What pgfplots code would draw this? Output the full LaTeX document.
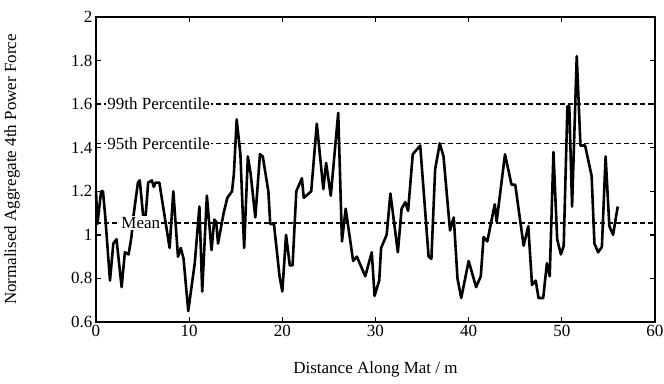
\documentclass[border=0pt]{standalone}
\usepackage{pgfplots}
\pgfplotsset{compat=1.18}
\usepackage{fontspec}
\setmainfont{Liberation Serif}
\pgfplotstableread{
x y
0 1.20
0.15 1.05
0.55 1.20
0.75 1.20
1.0 1.08
1.5 0.79
1.86 0.96
2.2 0.98
2.75 0.76
3.1 0.92
3.5 0.91
3.8 0.99
4.0 1.08
4.5 1.24
4.7 1.25
5.1 1.07
5.3 1.07
5.6 1.24
6.0 1.25
6.2 1.22
6.4 1.24
6.8 1.24
7.9 0.94
8.3 1.20
8.8 0.90
9.1 0.94
9.4 0.89
9.9 0.65
10.6 0.87
11.1 1.13
11.4 0.74
11.9 1.18
12.4 0.93
12.7 1.07
12.9 1.06
13.1 0.96
13.7 1.10
14.1 1.17
14.6 1.20
14.8 1.28
15.1 1.53
15.5 1.37
15.9 0.94
16.3 1.36
16.6 1.28
17.1 1.08
17.6 1.37
17.9 1.36
18.5 1.20
18.7 1.05
19.1 1.05
19.7 0.81
20.0 0.74
20.4 1.00
20.8 0.86
21.1 0.86
21.5 1.20
22.1 1.26
22.3 1.17
23.1 1.20
23.7 1.51
24.4 1.21
24.7 1.33
25.2 1.18
26.0 1.56
26.4 0.97
26.8 1.12
27.6 0.88
28.0 0.90
28.9 0.81
29.6 0.92
29.9 0.72
30.4 0.79
30.6 0.94
31.2 1.00
31.6 1.19
32.4 0.92
32.8 1.12
33.2 1.15
33.5 1.11
34.0 1.37
34.8 1.41
35.7 0.90
36.0 0.89
36.4 1.30
36.9 1.42
37.3 1.36
38.0 1.02
38.4 1.08
38.8 0.80
39.2 0.71
40.0 0.88
40.8 0.76
41.3 0.81
41.6 0.99
42.0 0.97
42.8 1.14
43.0 1.06
43.9 1.37
44.6 1.23
45.0 1.23
45.9 0.95
46.4 1.04
46.8 0.77
47.2 0.79
47.5 0.71
48.0 0.71
48.4 0.87
48.7 0.81
49.1 1.38
49.5 0.98
49.9 0.91
50.2 0.95
50.6 1.59
50.8 1.59
51.1 1.13
51.6 1.82
52.0 1.41
52.5 1.41
53.2 1.27
53.5 0.96
53.9 0.92
54.3 0.945
54.7 1.36
55.1 1.04
55.5 1.00
56.0 1.13
}\force
\pgfplotstableread{
x y
0 1.6
60 1.6
}\pninetynine
\pgfplotstableread{
x y
0 1.42
60 1.42
}\pninetyfive
\pgfplotstableread{
x y
0 1.055
60 1.055
}\pmean
\begin{document}
\begin{tikzpicture}
\useasboundingbox (-96pt,-61pt) rectangle (568pt,322pt);
\begin{axis}[
  scale only axis,
  width=559pt, height=305pt,
  xmin=0, xmax=60, ymin=0.6, ymax=2,
  xtick={0,10,...,60},
  ytick={0.6,0.8,1,1.2,1.4,1.6,1.8,2},
  yticklabels={0.6,0.8,1,1.2,1.4,1.6,1.8,2},
  tick align=inside,
  major tick length=5pt,
  axis line style={line width=1.5pt},
  every tick/.style={black, line width=1.3pt},
  /pgf/number format/assume math mode=true,
  tick label style={font=\fontsize{17}{19}\selectfont},
  label style={font=\fontsize{17}{19}\selectfont},
  xlabel={Distance Along Mat / m},
  ylabel={Normalised Aggregate 4th Power Force},
  xlabel style={at={(axis description cs:0.5,-0.157)}, anchor=center},
  ylabel style={at={(axis description cs:-0.150,0.5)}, anchor=center, rotate=0},
  clip=false,
]
\addplot[black, line width=1.5pt, dash pattern=on 5pt off 3pt] table {\pninetynine};
\addplot[black, line width=1.5pt, dash pattern=on 5pt off 3pt] table {\pninetyfive};
\addplot[black, line width=1.5pt, dash pattern=on 5pt off 3pt] table {\pmean};
\addplot[black, line width=2.6pt, line join=round] table {\force};
\node[fill=white, anchor=west, inner sep=1pt, font=\fontsize{17}{19}\selectfont] at (axis cs:1.1,1.6) {99th Percentile};
\node[fill=white, anchor=west, inner sep=1pt, font=\fontsize{17}{19}\selectfont] at (axis cs:1.1,1.42) {95th Percentile};
\node[fill=white, anchor=west, inner sep=1pt, font=\fontsize{17}{19}\selectfont] at (axis cs:2.6,1.055) {Mean};
\end{axis}
\end{tikzpicture}
\end{document}
